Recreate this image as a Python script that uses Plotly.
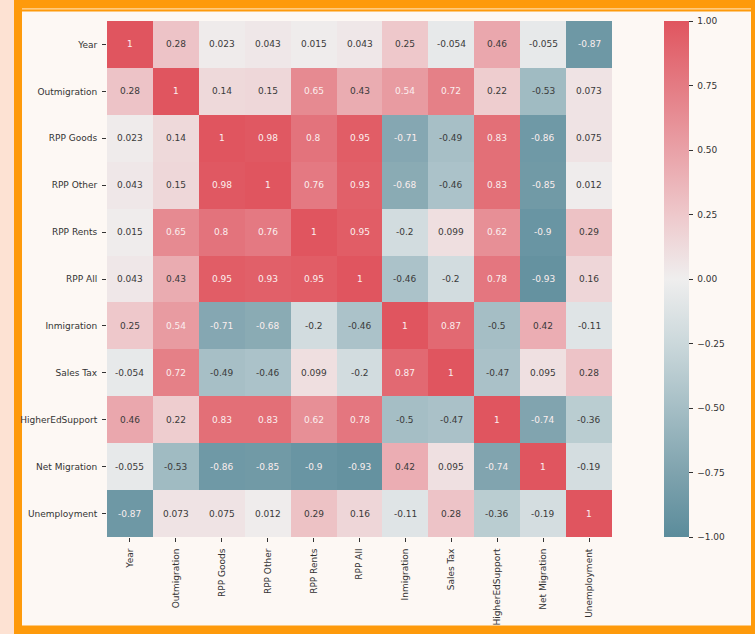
import plotly.graph_objects as go

labels = ["Year", "Outmigration", "RPP Goods", "RPP Other", "RPP Rents", "RPP All",
          "Inmigration", "Sales Tax", "HigherEdSupport", "Net Migration", "Unemployment"]

row_year = [1, 0.28, 0.023, 0.043, 0.015, 0.043, 0.25, -0.054, 0.46, -0.055, -0.87]
row_outmigration = [0.28, 1, 0.14, 0.15, 0.65, 0.43, 0.54, 0.72, 0.22, -0.53, 0.073]
row_rpp_goods = [0.023, 0.14, 1, 0.98, 0.8, 0.95, -0.71, -0.49, 0.83, -0.86, 0.075]
row_rpp_other = [0.043, 0.15, 0.98, 1, 0.76, 0.93, -0.68, -0.46, 0.83, -0.85, 0.012]
row_rpp_rents = [0.015, 0.65, 0.8, 0.76, 1, 0.95, -0.2, 0.099, 0.62, -0.9, 0.29]
row_rpp_all = [0.043, 0.43, 0.95, 0.93, 0.95, 1, -0.46, -0.2, 0.78, -0.93, 0.16]
row_inmigration = [0.25, 0.54, -0.71, -0.68, -0.2, -0.46, 1, 0.87, -0.5, 0.42, -0.11]
row_sales_tax = [-0.054, 0.72, -0.49, -0.46, 0.099, -0.2, 0.87, 1, -0.47, 0.095, 0.28]
row_higher_ed = [0.46, 0.22, 0.83, 0.83, 0.62, 0.78, -0.5, -0.47, 1, -0.74, -0.36]
row_net_migration = [-0.055, -0.53, -0.86, -0.85, -0.9, -0.93, 0.42, 0.095, -0.74, 1, -0.19]
row_unemployment = [-0.87, 0.073, 0.075, 0.012, 0.29, 0.16, -0.11, 0.28, -0.36, -0.19, 1]

matrix = [row_year, row_outmigration, row_rpp_goods, row_rpp_other, row_rpp_rents,
          row_rpp_all, row_inmigration, row_sales_tax, row_higher_ed,
          row_net_migration, row_unemployment]

cbar_ticks = [-1.0, -0.75, -0.5, -0.25, 0.0, 0.25, 0.5, 0.75, 1.0]
cbar_ticktext = ["\u22121.00", "\u22120.75", "\u22120.50", "\u22120.25", "0.00",
                 "0.25", "0.50", "0.75", "1.00"]

colorscale = [
    [0.0, "#5b8c9b"],
    [0.125, "#7fa3ae"],
    [0.25, "#a5bec5"],
    [0.375, "#cbd8db"],
    [0.5, "#efeeee"],
    [0.625, "#eec8cb"],
    [0.75, "#e9a1a7"],
    [0.875, "#e47b83"],
    [1.0, "#e0555f"],
]

FONT = "DejaVu Sans"
TXT = "#333333"

fig = go.Figure(go.Heatmap(
    z=matrix, x=labels, y=labels,
    zmin=-1, zmax=1, colorscale=colorscale,
    xgap=0, ygap=0, hoverinfo="skip",
    colorbar=dict(
        x=1.103, xanchor="left", xpad=0, ypad=0,
        y=0.5, yanchor="middle", len=1, lenmode="fraction",
        thickness=25, thicknessmode="pixels", outlinewidth=0,
        tickmode="array", tickvals=cbar_ticks,
        ticktext=["\u00a0" + t for t in cbar_ticktext],
        ticks="outside", ticklen=4, tickwidth=1, tickcolor=TXT,
        tickfont=dict(family=FONT, size=9, color=TXT),
    ),
))

annotations = []
for r, row in enumerate(matrix):
    for c, v in enumerate(row):
        annotations.append(dict(
            x=labels[c], y=labels[r], xref="x", yref="y",
            text=format(v, ".2g"), showarrow=False,
            font=dict(family=FONT, size=9,
                      color="#fbeeee" if abs(v) > 0.535 else "#3a3a3a"),
        ))

W, H = 755, 634
L, R, T, B = 107, 612, 21, 537
pw, ph = R - L, B - T


def px(x):
    return (x - L) / pw


def py(y):
    return (B - y) / ph


ORANGE = "#fe9a0b"
shapes = [
    dict(type="rect", xref="paper", yref="paper", x0=px(0), x1=px(14), y0=py(H), y1=py(0),
         fillcolor="#fde2d3", line=dict(width=0), layer="below"),
    dict(type="rect", xref="paper", yref="paper", x0=px(14), x1=px(22), y0=py(H), y1=py(0),
         fillcolor=ORANGE, line=dict(width=0), layer="below"),
    dict(type="rect", xref="paper", yref="paper", x0=px(14), x1=px(W), y0=py(11.5), y1=py(0),
         fillcolor=ORANGE, line=dict(width=0), layer="below"),
    dict(type="rect", xref="paper", yref="paper", x0=px(22), x1=px(751), y0=py(9.5), y1=py(8.3),
         fillcolor="#ffd9a6", line=dict(width=0), layer="below"),
    dict(type="rect", xref="paper", yref="paper", x0=px(751), x1=px(W), y0=py(H), y1=py(0),
         fillcolor=ORANGE, line=dict(width=0), layer="below"),
    dict(type="rect", xref="paper", yref="paper", x0=px(14), x1=px(W), y0=py(H), y1=py(625.5),
         fillcolor=ORANGE, line=dict(width=0), layer="below"),
]

fig.update_layout(
    width=W, height=H,
    margin=dict(l=L, r=W - R, t=T, b=H - B, pad=0, autoexpand=False),
    paper_bgcolor="#fdf8f4", plot_bgcolor="rgba(0,0,0,0)",
    font=dict(family=FONT, size=9, color=TXT),
    annotations=annotations, shapes=shapes,
    xaxis=dict(showgrid=False, zeroline=False, showline=False, automargin=False,
               ticks="outside", ticklen=4, tickwidth=1, tickcolor=TXT,
               ticklabelstandoff=3,
               tickangle=-90, tickfont=dict(family=FONT, size=9, color=TXT)),
    yaxis=dict(showgrid=False, zeroline=False, showline=False, autorange="reversed",
               automargin=False,
               ticks="outside", ticklen=4, tickwidth=1, tickcolor=TXT,
               ticklabelstandoff=3,
               tickfont=dict(family=FONT, size=9, color=TXT)),
)

fig.write_html("out.html")
